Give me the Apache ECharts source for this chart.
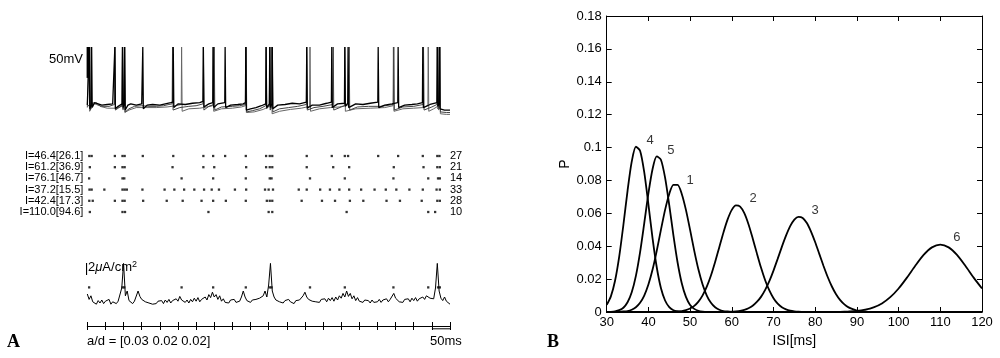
<!DOCTYPE html>
<html><head><meta charset="utf-8">
<script src="https://cdn.jsdelivr.net/npm/echarts@6/dist/echarts.min.js"></script>
<style>html,body{margin:0;padding:0;background:#fff}#c{width:1000px;height:358px}</style>
</head><body><div id="c"></div>
<script>
// ---------- Panel A data (time in ms) ----------
const rowLabels = ['I=46.4[26.1]','I=61.2[36.9]','I=76.1[46.7]','I=37.2[15.5]','I=42.4[17.3]','I=110.0[94.6]'];
const rowCounts = ['27','21','14','33','28','10'];
const spikes1 = [5.5,12,76,97,103,153,237,320,347,380,437,493,503,510,605,674,710,719,802,857,925,965,971];
const spikes2 = [7,76,97,103,235,320,350,438,493,503,510,605,678,722,845,927,965,972];
const spikes3 = [5,97,102,260,347,437,503,508,614,710,844,940,967,972];
const spikes4 = [6,12,47,97,103,109,152,213,240,267,295,322,343,363,407,438,490,500,512,583,605,642,669,695,722,755,792,823,852,888,925,963,972];
const spikes5 = [5.5,15,76,97,103,154,219,263,315,347,382,437,495,503,510,591,647,683,724,761,825,862,922,965,972];
const spikes6 = [7,97,104,334,500,510,715,940,959];

// membrane potential traces (mV) of cells 1-3
const trace1 = [[0,-64],[4.5,-62],[5.5,30],[7,-70],[11,-63],[12,30],[13.5,-68],[20,-60],[30,-62],[40,-64],[55,-63],[70,-62],[75,-60],[76,30],[77.5,-70],[85,-66],[96,-62],[97,30],[98.5,-68],[102,-62],[103,30],[104.5,-72],[112,-64],[120,-62],[135,-64],[150,-62],[153,30],[154.5,-70],[165,-64],[180,-63],[200,-64],[215,-62],[230,-60],[236,-59],[237,30],[238.5,-68],[250,-62],[270,-63],[290,-61],[310,-60],[319,-58],[320,30],[321.5,-67],[335,-62],[346,-60],[347,30],[348.5,-68],[360,-62],[379,-60],[380,30],[381.5,-68],[395,-64],[415,-63],[430,-62],[436,-60],[437,30],[438.5,-72],[450,-70],[465,-68],[480,-65],[492,-62],[493,30],[494.5,-68],[502,-62],[503,30],[504.5,-68],[509,-62],[510,30],[511.5,-70],[525,-64],[545,-63],[565,-61],[585,-62],[604,-59],[605,30],[606.5,-69],[620,-64],[640,-64],[660,-61],[673,-59],[674,30],[675.5,-68],[690,-62],[709,-61],[710,30],[711.5,-66],[718,-61],[719,30],[720.5,-68],[740,-62],[760,-63],[780,-61],[801,-59],[802,30],[803.5,-68],[820,-64],[840,-62],[856,-60],[857,30],[858.5,-68],[875,-64],[895,-63],[910,-62],[924,-60],[925,30],[926.5,-68],[945,-63],[964,-60],[965,30],[966.5,-66],[970,-62],[971,30],[972.5,-70],[985,-72],[1000,-72]];
const trace2 = [[0,-66],[6,-64],[7,30],[8.5,-72],[15,-60],[25,-63],[40,-66],[60,-66],[75,-63],[76,30],[77.5,-72],[90,-67],[96,-64],[97,30],[98.5,-70],[102,-64],[103,30],[104.5,-75],[115,-70],[130,-66],[150,-65],[170,-66],[190,-66],[210,-65],[225,-63],[234,-62],[235,30],[236.5,-72],[255,-68],[280,-66],[300,-65],[319,-62],[320,30],[321.5,-72],[335,-66],[349,-63],[350,30],[351.5,-72],[370,-67],[400,-66],[420,-65],[437,-63],[438,30],[439.5,-75],[455,-73],[475,-70],[492,-65],[493,30],[494.5,-70],[502,-64],[503,30],[504.5,-72],[509,-65],[510,30],[511.5,-75],[530,-70],[555,-68],[580,-66],[604,-63],[605,30],[606.5,-72],[625,-68],[650,-66],[677,-63],[678,30],[679.5,-72],[700,-67],[721,-63],[722,30],[723.5,-72],[745,-67],[775,-66],[810,-66],[844,-63],[845,30],[846.5,-72],[870,-67],[900,-66],[926,-63],[927,30],[928.5,-72],[950,-67],[964,-63],[965,30],[966.5,-70],[971,-65],[972,30],[973.5,-75],[990,-76],[1000,-76]];
const trace3 = [[0,-68],[4,-65],[5,30],[6.5,-74],[15,-64],[25,-60],[35,-66],[55,-69],[80,-69],[96,-66],[97,30],[98.5,-72],[101,-66],[102,30],[103.5,-76],[115,-72],[135,-68],[160,-68],[190,-68],[220,-67],[245,-65],[259,-63],[260,30],[261.5,-74],[280,-70],[310,-69],[330,-67],[346,-65],[347,30],[348.5,-74],[370,-70],[400,-69],[425,-67],[436,-65],[437,30],[438.5,-76],[460,-75],[485,-71],[502,-66],[503,30],[504.5,-72],[507,-67],[508,30],[509.5,-78],[530,-74],[560,-71],[590,-69],[613,-66],[614,30],[615.5,-74],[640,-70],[670,-68],[695,-67],[709,-65],[710,30],[711.5,-74],[740,-70],[780,-69],[820,-68],[843,-65],[844,30],[845.5,-74],[870,-70],[900,-69],[925,-68],[939,-65],[940,30],[941.5,-74],[955,-70],[966,-66],[967,30],[968.5,-72],[971,-67],[972,30],[973.5,-78],[990,-79],[1000,-79]];

// input current (uA/cm^2), one sample every 5 ms from 0 to 1000 ms
const currentStep = 5;
const currentVals = [
1.5,0.6,1.2,0.2,0.5,-0.2,0.4,0.0,0.5,-0.1,0.3,0.1,0.6,-0.2,0.2,0.5,-0.1,0.3,0.1,2.5,
6.6,1.2,2.0,0.4,0.6,-0.1,0.3,0.6,2.0,1.1,0.6,0.7,0.2,0.4,0.0,0.2,-0.2,0.1,-0.1,0.3,
0.0,0.4,-0.1,0.5,0.1,0.6,0.0,0.4,0.2,0.7,0.3,1.1,0.5,0.7,0.1,0.5,0.0,0.6,0.2,0.8,
0.3,0.9,0.2,0.6,0.4,1.0,0.5,1.4,0.9,1.8,1.0,1.4,0.6,1.2,0.3,0.7,0.1,0.4,0.0,0.5,
0.2,0.6,0.1,0.4,0.3,1.0,2.0,1.0,0.4,0.6,0.1,0.5,0.2,0.6,0.3,0.8,0.5,1.2,2.0,1.0,
3.0,6.6,2.0,1.0,0.5,0.7,0.2,0.5,0.0,0.4,0.1,0.6,0.2,0.3,-0.1,0.4,0.2,0.5,0.3,1.2,
1.8,1.0,0.6,0.8,0.3,0.6,0.2,0.5,0.1,0.6,0.3,0.7,0.2,0.8,0.4,0.9,0.3,1.0,0.5,1.2,
0.8,1.6,1.0,2.0,1.1,1.6,0.7,1.2,0.4,0.9,0.3,0.6,0.1,0.5,0.2,0.4,0.0,0.5,0.1,0.4,
0.2,0.6,0.1,0.5,0.3,0.7,0.2,0.6,0.4,1.6,0.8,0.6,0.2,0.5,0.1,0.6,0.3,0.7,0.2,0.8,
0.4,0.9,0.3,0.7,0.5,1.0,0.6,1.2,1.5,0.8,1.1,0.7,2.5,6.6,2.0,0.8,0.4,1.0,0.3,0.5,
-0.2];
const currentDotLevel = 2.6;

// ---------- Panel B data: ISI distributions ----------
const curve4 = [[30,0.0043],[31,0.0095],[32,0.0190],[33,0.0337],[34,0.0529],[35,0.0737],[36,0.0914],[37,0.1005],[38,0.0981],[39,0.0851],[40,0.0655],[41,0.0448],[42,0.0272],[43,0.0146],[44,0.0070],[45,0.0030],[46,0.0011],[47,0.0004],[48,0.0001],[49,0],[120,0]];
const curve5 = [[30,0],[31,0.0001],[32,0.0004],[33,0.0011],[34,0.0026],[35,0.0059],[36,0.0120],[37,0.0220],[38,0.0363],[39,0.0539],[40,0.0721],[41,0.0870],[42,0.0946],[43,0.0926],[44,0.0817],[45,0.0650],[46,0.0466],[47,0.0301],[48,0.0175],[49,0.0092],[50,0.0043],[51,0.0019],[52,0.0007],[53,0.0002],[54,0],[120,0]];
const curve1 = [[30,0],[33,0.0001],[34,0.0003],[35,0.0006],[36,0.0014],[37,0.0029],[38,0.0056],[39,0.0100],[40,0.0167],[41,0.0258],[42,0.0372],[43,0.0499],[44,0.0621],[45,0.0718],[46,0.0773],[47,0.0773],[48,0.0718],[49,0.0621],[50,0.0499],[51,0.0372],[52,0.0258],[53,0.0167],[54,0.0100],[55,0.0056],[56,0.0029],[57,0.0014],[58,0.0006],[59,0.0003],[60,0.0001],[61,0],[120,0]];
const curve2 = [[30,0],[45,0],[46,0.0001],[47,0.0003],[48,0.0005],[49,0.0011],[50,0.0021],[51,0.0037],[52,0.0063],[53,0.0101],[54,0.0154],[55,0.0222],[56,0.0304],[57,0.0394],[58,0.0484],[59,0.0563],[60,0.0621],[61,0.0648],[62,0.0641],[63,0.0601],[64,0.0534],[65,0.0449],[66,0.0358],[67,0.0270],[68,0.0193],[69,0.0131],[70,0.0084],[71,0.0051],[72,0.0029],[73,0.0016],[74,0.0008],[75,0.0004],[76,0.0002],[77,0.0001],[78,0],[120,0]];
const curve3 = [[30,0],[59,0],[60,0.0002],[61,0.0004],[62,0.0007],[63,0.0013],[64,0.0023],[65,0.0038],[66,0.0061],[67,0.0092],[68,0.0135],[69,0.0188],[70,0.0252],[71,0.0323],[72,0.0396],[73,0.0464],[74,0.0522],[75,0.0562],[76,0.0579],[77,0.0572],[78,0.0541],[79,0.0489],[80,0.0424],[81,0.0352],[82,0.0280],[83,0.0213],[84,0.0155],[85,0.0108],[86,0.0072],[87,0.0046],[88,0.0028],[89,0.0017],[90,0.0009],[91,0.0005],[92,0.0003],[93,0.0001],[94,0],[120,0]];
const curve6 = [[30,0],[84,0],[86,0.0001],[88,0.0003],[90,0.0006],[92,0.0014],[94,0.0028],[96,0.0052],[98,0.0090],[100,0.0143],[102,0.0209],[104,0.0281],[106,0.0347],[108,0.0393],[110,0.0410],[112,0.0393],[114,0.0347],[116,0.0281],[118,0.0209],[120,0.0143]];
const curveLabelNames = ['4','5','1','2','3','6'];
const curveLabelX = [40.4,45.4,50.0,65.1,80.0,114.0];
const curveLabelY = [0.1042,0.0982,0.080,0.0691,0.0618,0.0455];

// ---------- chart ----------
const FONT = '"Liberation Sans", Arial, Helvetica, sans-serif';
const A_LEFT = 87.3, A_WIDTH = 362.7;
const hiddenX = (gi) => ({type:'value', gridIndex:gi, min:0, max:1000, show:false});
const blackLine = (w) => ({color:'#000', width:w});

const rasterRows = [spikes1,spikes2,spikes3,spikes4,spikes5,spikes6];
const rasterData = [];
rasterRows.forEach((row, r) => row.forEach(t => rasterData.push([t, rowLabels[r]])));

const option = {
  animation:false,
  backgroundColor:'#fff',
  textStyle:{fontFamily:FONT, color:'#000'},
  grid:[
    {left:A_LEFT, width:A_WIDTH, top:47, height:68, outerBoundsMode:'none'},
    {left:A_LEFT, width:A_WIDTH, top:150.4, height:67.2, outerBoundsMode:'none'},
    {left:A_LEFT, width:A_WIDTH, top:261, height:54, outerBoundsMode:'none'},
    {left:A_LEFT, width:A_WIDTH, top:322, height:4, outerBoundsMode:'none'},
    {left:606.7, width:375.3, top:16, height:296, outerBoundsMode:'none'}
  ],
  xAxis:[
    hiddenX(0), hiddenX(1), hiddenX(2),
    {type:'value', gridIndex:3, min:0, max:1000, interval:50,
     axisLine:{show:true, onZero:false, lineStyle:blackLine(1)},
     axisTick:{show:true, inside:false, length:4, lineStyle:blackLine(1)},
     axisLabel:{show:false},
     splitLine:{show:true, lineStyle:blackLine(1)}},
    {type:'value', gridIndex:4, min:30, max:120, interval:10, position:'bottom',
     axisLine:{show:true, onZero:false, lineStyle:blackLine(1)},
     axisTick:{show:true, inside:true, length:5, lineStyle:blackLine(1)},
     axisLabel:{show:true, color:'#000', fontSize:13, margin:4, fontFamily:FONT},
     splitLine:{show:false},
     name:'ISI[ms]', nameLocation:'middle', nameGap:15,
     nameTextStyle:{fontSize:14, color:'#000', fontFamily:FONT}},
    {type:'value', gridIndex:4, min:30, max:120, interval:10, position:'top',
     axisLine:{show:true, onZero:false, lineStyle:blackLine(1)},
     axisTick:{show:true, inside:true, length:5, lineStyle:blackLine(1)},
     axisLabel:{show:false}, splitLine:{show:false}}
  ],
  yAxis:[
    {type:'value', gridIndex:0, min:-80, max:30, show:false},
    {type:'category', gridIndex:1, data:rowLabels, inverse:true, position:'left',
     axisLine:{show:false}, axisTick:{show:false}, splitLine:{show:false},
     axisLabel:{color:'#000', fontSize:11, margin:4, interval:0, fontFamily:FONT}},
    {type:'category', gridIndex:1, data:rowCounts, inverse:true, position:'right',
     axisLine:{show:false}, axisTick:{show:false}, splitLine:{show:false},
     axisLabel:{color:'#000', fontSize:11, margin:0, interval:0, fontFamily:FONT}},
    {type:'value', gridIndex:2, min:-2, max:7, show:false},
    {type:'value', gridIndex:3, min:0, max:1, show:false},
    {type:'value', gridIndex:4, min:0, max:0.18, interval:0.02, position:'left',
     axisLine:{show:true, onZero:false, lineStyle:blackLine(1)},
     axisTick:{show:true, inside:true, length:5, lineStyle:blackLine(1)},
     axisLabel:{show:true, color:'#000', fontSize:13, margin:5, fontFamily:FONT,
       formatter:v => String(+(+v).toFixed(2))},
     splitLine:{show:false},
     name:'P', nameLocation:'middle', nameGap:35, nameRotate:90,
     nameTextStyle:{fontSize:14, color:'#000', fontFamily:FONT}},
    {type:'value', gridIndex:4, min:0, max:0.18, interval:0.02, position:'right',
     axisLine:{show:true, onZero:false, lineStyle:blackLine(1)},
     axisTick:{show:true, inside:true, length:5, lineStyle:blackLine(1)},
     axisLabel:{show:false}, splitLine:{show:false}}
  ],
  series:[
    // voltage traces
    {type:'line', xAxisIndex:0, yAxisIndex:0, data:trace3, showSymbol:false, lineStyle:{color:'#666', width:1}},
    {type:'line', xAxisIndex:0, yAxisIndex:0, data:trace2, showSymbol:false, lineStyle:{color:'#444', width:1}},
    {type:'line', xAxisIndex:0, yAxisIndex:0, data:trace1, showSymbol:false, lineStyle:{color:'#000', width:1.3}},
    // 50 mV scale bar
    {type:'line', xAxisIndex:0, yAxisIndex:0, data:[[1.5,30],[1.5,-20]], clip:false, showSymbol:false, lineStyle:{color:'#000', width:2.5}},
    // raster
    {type:'scatter', xAxisIndex:1, yAxisIndex:1, data:rasterData, symbol:'rect', symbolSize:2.3, itemStyle:{color:'#000'}},
    // current
    {type:'line', xAxisIndex:2, yAxisIndex:3, data:currentVals.map((v,i)=>[i*currentStep, v]), showSymbol:false, lineStyle:{color:'#000', width:1}},
    {type:'scatter', xAxisIndex:2, yAxisIndex:3, data:spikes3.map(t=>[t,currentDotLevel]), symbol:'rect', symbolSize:2.3, itemStyle:{color:'#000'}},
    {type:'line', xAxisIndex:2, yAxisIndex:3, data:[[-4,6.67],[-4,4.67]], clip:false, showSymbol:false, lineStyle:{color:'#000', width:2.5}},
    // time scale bar (50 ms)
    {type:'line', xAxisIndex:3, yAxisIndex:4, data:[[950,-0.7],[1000,-0.7]], clip:false, showSymbol:false, lineStyle:{color:'#000', width:1}},
    // panel B curves
    ...[curve1,curve2,curve3,curve4,curve5,curve6].map(c => ({type:'line', xAxisIndex:4, yAxisIndex:5, data:c, smooth:0.25, showSymbol:false, lineStyle:{color:'#000', width:1.8}})),
    {type:'scatter', xAxisIndex:4, yAxisIndex:5, symbolSize:0,
     data:curveLabelNames.map((n,i)=>({name:n, value:[curveLabelX[i], curveLabelY[i]]})),
     label:{show:true, position:'inside', formatter:p=>p.name, color:'#000', fontSize:13, fontFamily:FONT}}
  ],
  graphic:[
    {type:'text', left:7, top:333, style:{text:'A', font:'bold 18px "Liberation Serif", "Times New Roman", serif', fill:'#000'}},
    {type:'text', left:547, top:333, style:{text:'B', font:'bold 18px "Liberation Serif", "Times New Roman", serif', fill:'#000'}},
    {type:'text', right:1000-83, top:53, style:{text:'50mV', font:'13px '+FONT, fill:'#000', textAlign:'right'}},
    {type:'text', left:88, top:260, style:{text:'{a|2}{m|μ}{a|A/cm}{s|2}', fill:'#000',
      rich:{a:{fontSize:13, fontFamily:FONT}, m:{fontSize:13, fontFamily:FONT, fontStyle:'italic'}, s:{fontSize:9, fontFamily:FONT, verticalAlign:'top', padding:[0,0,6,0]}}}},
    {type:'text', left:87, top:335, style:{text:'a/d = [0.03 0.02 0.02]', font:'13px '+FONT, fill:'#000'}},
    {type:'text', left:430, top:335, style:{text:'50ms', font:'13px '+FONT, fill:'#000'}}
  ]
};
const chart = echarts.init(document.getElementById('c'), null, {renderer:'canvas'});
chart.setOption(option);
</script></body></html>
